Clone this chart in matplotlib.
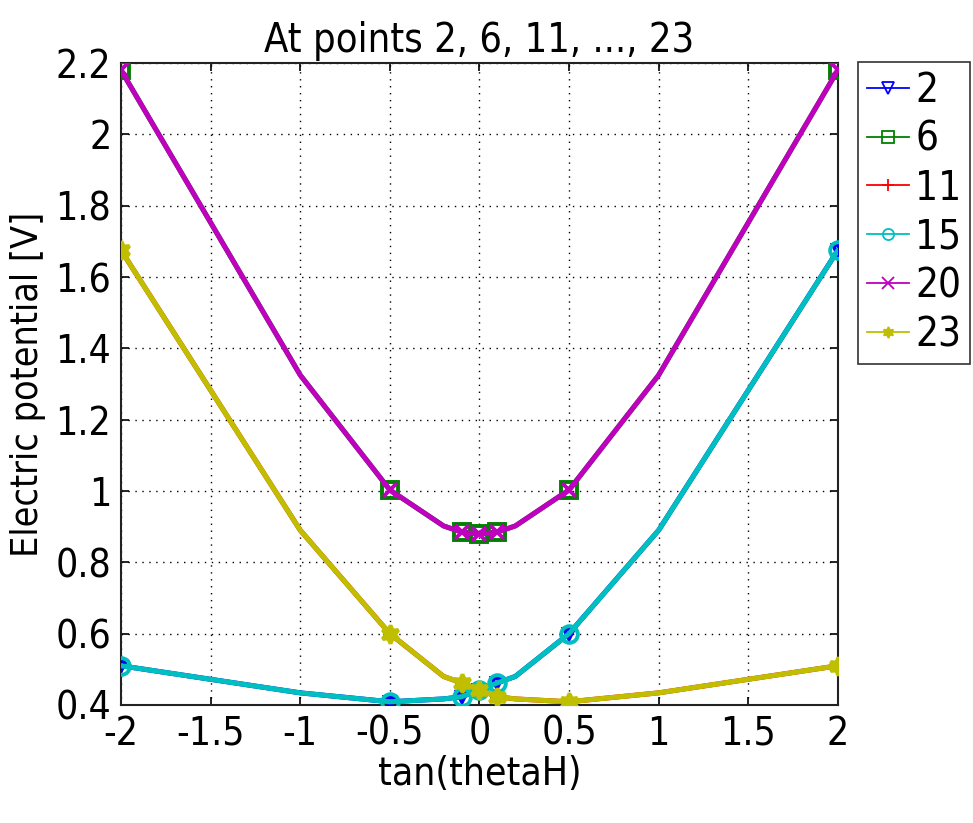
import matplotlib
matplotlib.use("Agg")
import matplotlib.pyplot as plt
from matplotlib.lines import Line2D

# data
tan_theta = [-2, -1, -0.5, -0.2, -0.1, 0, 0.1, 0.2, 0.5, 1, 2]
pot_2 = [0.51, 0.434, 0.409, 0.417, 0.423, 0.442, 0.462, 0.48, 0.60, 0.89, 1.675]
pot_6 = [2.18, 1.325, 1.003, 0.902, 0.885, 0.879, 0.885, 0.902, 1.003, 1.325, 2.18]
pot_11 = pot_2[::-1]
pot_15 = list(pot_2)
pot_20 = list(pot_6)
pot_23 = list(pot_11)
labels = ["2", "6", "11", "15", "20", "23"]
marker_idx = [0, 2, 4, 5, 6, 8, 10]
x_ticks = [-2, -1.5, -1, -0.5, 0, 0.5, 1, 1.5, 2]
x_tick_labels = ["-2", "-1.5", "-1", "-0.5", "0", "0.5", "1", "1.5", "2"]
y_ticks = [0.4, 0.6, 0.8, 1.0, 1.2, 1.4, 1.6, 1.8, 2.0, 2.2]
y_tick_labels = ["0.4", "0.6", "0.8", "1", "1.2", "1.4", "1.6", "1.8", "2", "2.2"]

series = [pot_2, pot_6, pot_11, pot_15, pot_20, pot_23]
colors = ["#0000ff", "#008000", "#ff0000", "#00bfbf", "#bf00bf", "#bfbf00"]
markers = ["v", "s", "+", "o", "x", (6, 1, 0)]
msizes = [7, 11, 10, 12, 10, 13]
filled = [False, False, True, False, True, True]

plt.rcParams['font.family'] = ['DejaVu Sans']
plt.rcParams['font.stretch'] = 'condensed'
fig = plt.figure(figsize=(9.73, 8.23), dpi=100)
ax = fig.add_axes([0.1244, 0.1434, 0.7367, 0.7800])

for ys, c, m, ms, f in zip(series, colors, markers, msizes, filled):
    ax.plot(tan_theta, ys, color=c, lw=3.6, marker=m, markevery=marker_idx,
            markersize=ms, markeredgewidth=2.8,
            markerfacecolor=(c if f else "none"), markeredgecolor=c,
            solid_joinstyle="round", solid_capstyle="round", zorder=3)

ax.set_xlim(-2, 2)
ax.set_ylim(0.4, 2.2)
ax.set_xticks(x_ticks)
ax.set_xticklabels(x_tick_labels)
ax.set_yticks(y_ticks)
ax.set_yticklabels(y_tick_labels)
ax.tick_params(direction="in", top=True, right=True, length=6, width=1.2,
               labelsize=28, pad=7)
ax.grid(True, color="black", linestyle=(0, (1, 4)), linewidth=1)
for s in ax.spines.values():
    s.set_linewidth(1.5)
    s.set_color("#222222")

ax.set_title("At points 2, 6, 11, ..., 23", fontsize=28.5, pad=8)
ax.set_xlabel("tan(thetaH)", fontsize=28, labelpad=2)
ax.set_ylabel("Electric potential [V]", fontsize=27, labelpad=7)

handles = []
for lab, c, m, f in zip(labels, colors, markers, filled):
    handles.append(Line2D([], [], color=c, lw=1.3, marker=m, markersize=8,
                          markeredgewidth=1.3,
                          markerfacecolor=(c if f else "none"), markeredgecolor=c,
                          label=lab))
leg = ax.legend(handles=handles, loc="upper left",
                bbox_to_anchor=(0.882, 0.9247), bbox_transform=fig.transFigure,
                fontsize=29, frameon=True, fancybox=False, edgecolor="black",
                handlelength=1.05, handletextpad=0.15, labelspacing=0.22,
                borderpad=0.22, borderaxespad=0)
leg.get_frame().set_linewidth(1.2)

fig.savefig("out.png", dpi=100)
